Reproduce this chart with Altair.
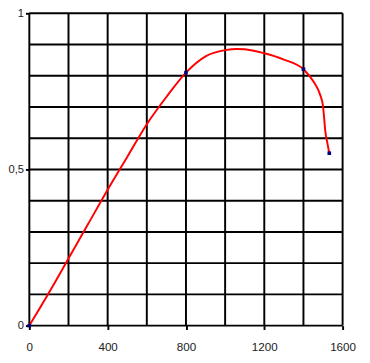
import altair as alt
import pandas as pd

# curve samples
curve_x = [0, 100, 200, 300, 400, 500, 600, 700, 800, 900, 1000, 1060, 1100, 1200,
           1300, 1400, 1453, 1486, 1500, 1505, 1511, 1522, 1532]
curve_y = [0, 0.105, 0.215, 0.325, 0.435, 0.54, 0.645, 0.732, 0.81, 0.862, 0.882,
           0.886, 0.885, 0.872, 0.852, 0.821, 0.78, 0.738, 0.703, 0.67, 0.626, 0.585, 0.552]

# highlighted points
pt_x = [0, 800, 1400, 1532]
pt_y = [0, 0.81, 0.821, 0.552]

grid_x = [0, 200, 400, 600, 800, 1000, 1200, 1400, 1600]
grid_y = [0, 0.1, 0.2, 0.3, 0.4, 0.5, 0.6, 0.7, 0.8, 0.9, 1.0]
x_labels = [0, 400, 800, 1200, 1600]
y_labels = [0, 0.5, 1]

curve = pd.DataFrame({"x": curve_x, "y": curve_y})
pts = pd.DataFrame({"x": pt_x, "y": pt_y})
gx = pd.DataFrame({"gx": grid_x})
gy = pd.DataFrame({"gy": grid_y})

xs = alt.Scale(domain=[0, 1600], nice=False, zero=False)
ys = alt.Scale(domain=[0, 1], nice=False, zero=False)

xaxis = alt.Axis(values=x_labels, grid=False, domain=False, title=None,
                 tickColor="black", tickWidth=2, tickSize=4, labelPadding=13,
                 labelFont="Liberation Sans", labelFontSize=12, labelColor="#222",
                 labelFlush=False, labelExpr="format(datum.value, 'd')")
yaxis = alt.Axis(values=y_labels, grid=False, domain=False, title=None,
                 tickColor="black", tickWidth=2, tickSize=4, labelPadding=2,
                 labelFont="Liberation Sans", labelFontSize=11.5, labelColor="#222",
                 labelExpr="replace(format(datum.value, '~g'), '.', ',')")

vrules = alt.Chart(gx).mark_rule(color="black", strokeWidth=2).encode(
    x=alt.X("gx:Q", scale=xs, axis=xaxis),
    y=alt.datum(0, scale=ys, axis=yaxis),
    y2=alt.datum(1),
)
hrules = alt.Chart(gy).mark_rule(color="black", strokeWidth=2).encode(
    y=alt.Y("gy:Q", scale=ys),
    x=alt.datum(0),
    x2=alt.datum(1600),
)
line = alt.Chart(curve).mark_line(color="#ff0000", strokeWidth=2,
                                   interpolate="monotone").encode(
    x=alt.X("x:Q", scale=xs),
    y=alt.Y("y:Q", scale=ys),
)
points = alt.Chart(pts).mark_point(color="#000080", filled=True, shape="square",
                                    size=14, opacity=1).encode(
    x=alt.X("x:Q", scale=xs),
    y=alt.Y("y:Q", scale=ys),
)

chart = alt.layer(vrules, hrules, line, points).properties(
    width=323, height=322,
    autosize=alt.AutoSizeParams(type="none"),
    padding={"left": 22, "top": 0, "right": 20, "bottom": 30},
).configure_view(strokeWidth=0)

chart.save("out.html", embed_options={"renderer": "svg", "actions": False})
